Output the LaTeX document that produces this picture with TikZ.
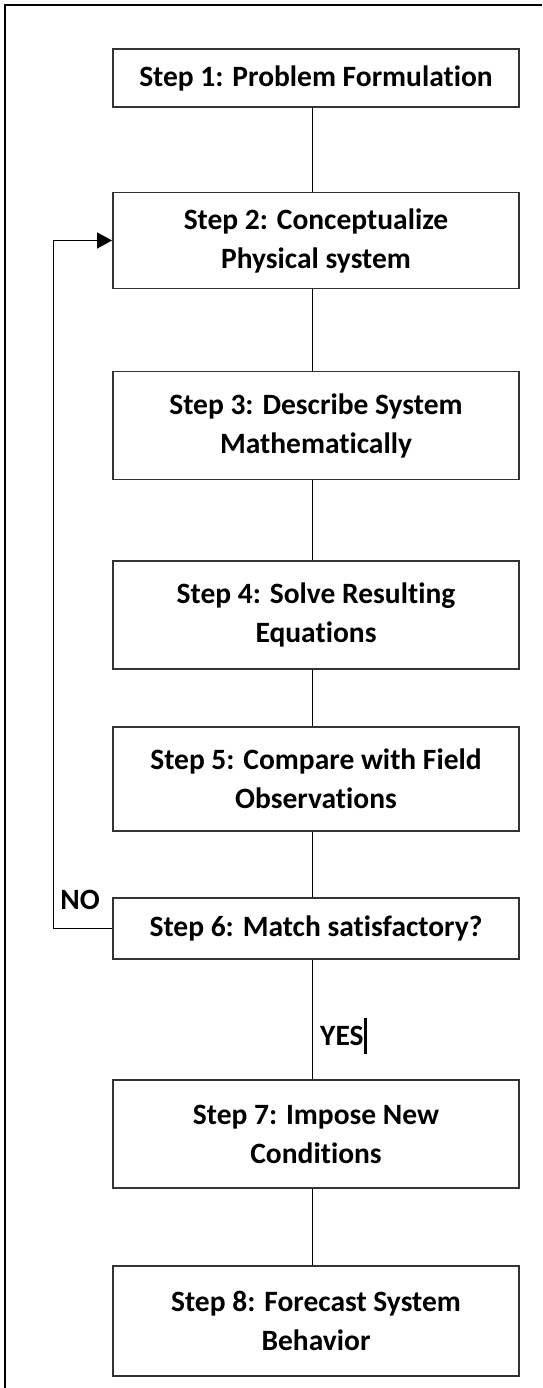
\documentclass[tikz,border=0pt]{standalone}
\usepackage{fontspec}
\setmainfont{Carlito}[Ligatures=NoCommon]
\usetikzlibrary{arrows.meta}
\begin{document}
\begin{tikzpicture}[x=1pt,y=-1pt,
    stepbox/.style={draw=black!80, line width=1.9pt, minimum width=406pt,
      inner sep=0pt, align=center, font=\fontsize{29.5}{39}\selectfont\bfseries},
    tag/.style={inner sep=0pt, font=\fontsize{29.5}{39}\selectfont\bfseries},
    link/.style={line width=1.4pt}]
\useasboundingbox (0,0) rectangle (542,1388);

% Frame
\draw[line width=2.3pt] (4.7,1388) -- (4.7,5.3) -- (542,5.3);

% Steps
\node[stepbox, minimum height=58pt]  (b1) at (316,78)    {Step 1: Problem Formulation};
\node[stepbox, minimum height=96pt]  (b2) at (316,240.5) {Step 2: Conceptualize\\Physical system};
\node[stepbox, minimum height=108pt] (b3) at (316,425.5) {Step 3: Describe System\\Mathematically};
\node[stepbox, minimum height=108pt] (b4) at (316,615)   {Step 4: Solve Resulting\\Equations};
\node[stepbox, minimum height=104pt] (b5) at (316,779)   {Step 5: Compare with Field\\Observations};
\node[stepbox, minimum height=61pt]  (b6) at (316,928.5) {Step 6: Match satisfactory?};
\node[stepbox, minimum height=108pt] (b7) at (316,1134)  {Step 7: Impose New\\Conditions};
\node[stepbox, minimum height=110pt] (b8) at (316,1321)  {Step 8: Forecast System\\Behavior};

% Connectors
\coordinate (spine) at (312.5,0);
\coordinate (loop) at (53.5,0);
\foreach \a/\b in {b1/b2,b2/b3,b3/b4,b4/b5,b5/b6,b6/b7,b7/b8}
  \draw[link] (\a.south -| spine) -- (\b.north -| spine);
\draw[link, -{Triangle[length=15pt,width=16pt]}] (b6.west) -- (b6.west -| loop) |- (b2.west);

% Labels
\node[tag] (no) at (80,900) {NO};
\node[tag, anchor=west, minimum height=35pt] (yes) at (320,1036) {YES};
\draw[line width=3pt] ([xshift=1.5pt]yes.north east) -- ([xshift=1.5pt]yes.south east);
\end{tikzpicture}
\end{document}
